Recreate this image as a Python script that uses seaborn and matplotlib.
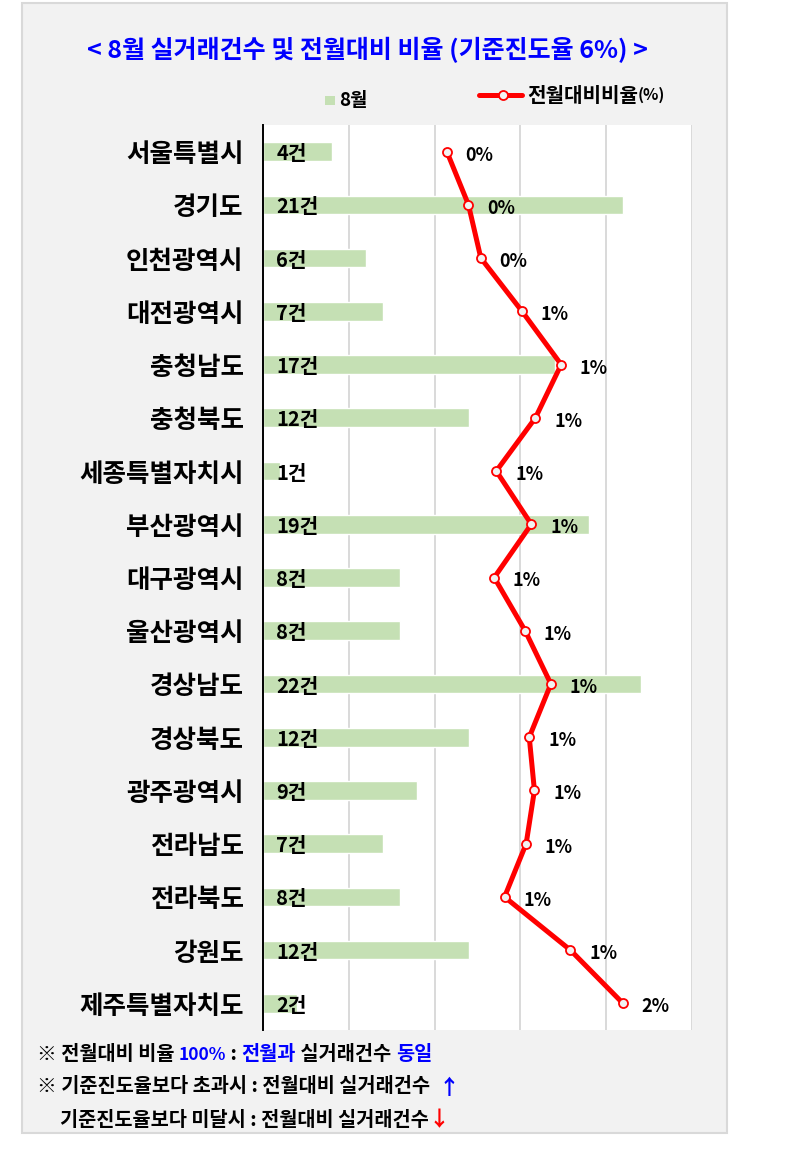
import numpy as np
import pandas as pd
import matplotlib
matplotlib.use("Agg")
import matplotlib.pyplot as plt
from matplotlib.patches import Rectangle
from matplotlib.lines import Line2D
import seaborn as sns

regions = ["서울특별시", "경기도", "인천광역시", "대전광역시", "충청남도", "충청북도",
           "세종특별자치시", "부산광역시", "대구광역시", "울산광역시", "경상남도", "경상북도",
           "광주광역시", "전라남도", "전라북도", "강원도", "제주특별자치도"]
counts = [4, 21, 6, 7, 17, 12, 1, 19, 8, 8, 22, 12, 9, 7, 8, 12, 2]
ratios = [0.11, 0.32, 0.44, 0.84, 1.22, 0.97, 0.59, 0.93, 0.57, 0.87, 1.12, 0.91,
          0.96, 0.88, 0.67, 1.31, 1.82]

title = "< 8월 실거래건수 및 전월대비 비율 (기준진도율 6%) >"
bar_series = "8월"
line_series = "전월대비비율"

sns.set_theme(style="white")
plt.rcParams["font.family"] = ["Noto Sans CJK KR", "DejaVu Sans"]

W, H = 788, 1149
fig = plt.figure(figsize=(W / 100, H / 100), dpi=100)
fig.patch.set_facecolor("white")

def fx(px):
    return px / W

def fy(py):
    return 1 - py / H

# chart area background
fig.add_artist(Rectangle((fx(22), fy(1133)), fx(727) - fx(22), fy(3) - fy(1133),
                         transform=fig.transFigure, facecolor="#f2f2f2",
                         edgecolor="#d9d9d9", lw=1.5, zorder=0))

ax = fig.add_axes([fx(263), fy(1030), fx(692) - fx(263), fy(125) - fy(1030)])
ax.set_facecolor("white")

df = pd.DataFrame({"region": regions, "count": counts, "ratio": ratios})
sns.barplot(data=df, y="region", x="count", orient="h", color="#c5e0b4",
            saturation=1, width=0.35, ax=ax, zorder=2)
ax.set_xlim(0, 25)
ax.set_xticks([0, 5, 10, 15, 20, 25])
ax.set_xticklabels([])
ax.set_xlabel("")
ax.set_ylabel("")
ax.set_axisbelow(True)
ax.grid(axis="x", color="#d9d9d9", lw=1.4)
ax.grid(axis="y", visible=False)
for s in ["top", "right", "bottom"]:
    ax.spines[s].set_visible(False)
ax.spines["left"].set_color("black")
ax.spines["left"].set_linewidth(1.4)
ax.tick_params(axis="x", length=0)
ax.tick_params(axis="y", length=0, pad=14, labelsize=18.4)
for lab in ax.get_yticklabels():
    lab.set_fontweight("bold")
    lab.set_color("black")

# bar data labels
for i, c in enumerate(counts):
    ax.annotate(f"{c}건", xy=(0, i), xytext=(9.5, -1.5), textcoords="offset points",
                ha="left", va="center", fontsize=14.5, fontweight="bold", color="black",
                zorder=5)

# line on secondary axis
ax2 = ax.twiny()
ax2.set_xlim(-1.675, 2.49)
ypos = np.arange(len(regions))
ax2.plot(df["ratio"], ypos, color="#ff0000", lw=3.6, marker="o", markersize=6.5,
         markerfacecolor="#f2f2f2", markeredgecolor="#ff0000", markeredgewidth=1.3,
         zorder=4)
for i, v in enumerate(ratios):
    ax2.annotate(f"{v:.0f}%", xy=(v, i), xytext=(13.5, -2.5), textcoords="offset points",
                 ha="left", va="center", fontsize=13, fontweight="bold", color="black")
ax2.set_xticks([])
ax2.patch.set_visible(False)
for s in ax2.spines.values():
    s.set_visible(False)
ax2.grid(False)
ax.set_ylim(len(regions) - 0.5, -0.5)

# title
fig.text(fx(367), fy(50), title, ha="center", va="center", fontsize=18,
         fontweight="bold", color="#0000ff")

# legend
fig.add_artist(Rectangle((fx(325), fy(105)), fx(335) - fx(325), fy(96) - fy(105),
                         transform=fig.transFigure, facecolor="#c5e0b4", edgecolor="none"))
fig.text(fx(339), fy(101), bar_series, ha="left", va="center", fontsize=13.5,
         fontweight="bold", color="black")
fig.add_artist(Line2D([fx(479), fx(522)], [fy(95), fy(95)], transform=fig.transFigure,
                      color="#ff0000", lw=3.6))
fig.add_artist(Line2D([fx(503)], [fy(95)], transform=fig.transFigure, marker="o",
                      markersize=6.5, markerfacecolor="#f2f2f2", markeredgecolor="#ff0000",
                      markeredgewidth=1.3, lw=0))

renderer = fig.canvas.get_renderer()

def rich(x, y, parts, size):
    cur = x
    for s, col, sz in parts:
        t = fig.text(fx(cur), fy(y), s, ha="left", va="center", fontsize=sz if sz else size,
                     fontweight="bold", color=col)
        cur += t.get_window_extent(renderer).width

rich(527, 95, [(line_series, "black", None), ("(%)", "black", 11.5)], 14.5)

foot = 14.2
rich(37, 1055, [("※ 전월대비 비율 ", "black", None), ("100%", "#0000ff", 12.5),
                (" : ", "black", None), ("전월과", "#0000ff", None),
                (" 실거래건수 ", "black", None), ("동일", "#0000ff", None)], foot)
rich(37, 1087, [("※ 기준진도율보다 초과시 : 전월대비 실거래건수  ", "black", None),
                ("↑", "#0000ff", 15)], foot)
rich(60, 1120, [("기준진도율보다 미달시 : 전월대비 실거래건수", "black", None),
                ("↓", "#ff0000", 15)], foot)

fig.savefig("out.png", dpi=100, facecolor="white")
